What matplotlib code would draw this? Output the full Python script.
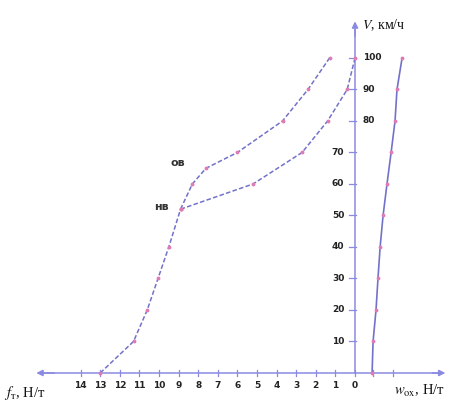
import matplotlib
matplotlib.use("Agg")
import matplotlib.pyplot as plt

plt.rcParams['mathtext.fontset'] = 'stix'

# Data (f_т in Н/т, plotted to the left as negative x)
V_main = [0, 10, 20, 30, 40, 52]
f_main = [13.0, 11.3, 10.6, 10.05, 9.5, 8.9]

V_ov = [52, 60, 65, 70, 80, 90, 100]
f_ov = [8.9, 8.3, 7.6, 6.0, 3.7, 2.4, 1.3]

V_nv = [52, 60, 70, 80, 90, 100]
f_nv = [8.9, 5.2, 2.7, 1.4, 0.4, 0.0]

V_w = [0, 10, 20, 30, 40, 50, 60, 70, 80, 90, 100]
w_ox = [0.87, 0.92, 1.07, 1.17, 1.28, 1.43, 1.63, 1.84, 2.04, 2.14, 2.4]

f_ticks = list(range(0, 15))
V_ticks = [10, 20, 30, 40, 50, 60, 70, 80, 90, 100]

AX = '#8a8ae2'
LINE = '#7272c8'
MARK = '#e07ab4'

fig = plt.figure(figsize=(4.66, 4.01), dpi=100)
ax = fig.add_axes([0, 0, 1, 1])
ax.set_xlim(-18.11, 5.66)
ax.set_ylim(-8.89, 118.4)
ax.axis('off')

# axes with arrows
ax.plot([-16.0, 4.4], [0, 0], color=AX, lw=1.1, zorder=1)
ax.annotate('', xy=(-16.4, 0), xytext=(-15.2, 0),
            arrowprops=dict(arrowstyle='-|>', color=AX, lw=1.1, mutation_scale=9))
ax.annotate('', xy=(4.75, 0), xytext=(3.8, 0),
            arrowprops=dict(arrowstyle='-|>', color=AX, lw=1.1, mutation_scale=9))
ax.plot([0, 0], [0, 109], color=AX, lw=1.1, zorder=1)
ax.annotate('', xy=(0, 112.5), xytext=(0, 106),
            arrowprops=dict(arrowstyle='-|>', color=AX, lw=1.1, mutation_scale=9))

# f ticks
for k in f_ticks:
    ax.plot([-k, -k], [-0.9, 0.9], color=AX, lw=0.9)
    ax.text(-k, -4.1, str(k), ha='center', va='center', fontsize=6.5,
            fontweight='bold', color='#222222')
# w ticks
for w in [0.9, 1.95]:
    ax.plot([w, w], [-0.9, 0.9], color=AX, lw=0.9)

# V ticks
for v in V_ticks:
    ax.plot([-0.3, 0.05], [v, v], color=AX, lw=0.9)
    if v >= 80:
        ax.text(0.4, v, str(v), ha='left', va='center', fontsize=6.5,
                fontweight='bold', color='#222222')
    else:
        ax.text(-0.55, v, str(v), ha='right', va='center', fontsize=6.5,
                fontweight='bold', color='#222222')

# curves
style = dict(color=LINE, lw=1.1, ls=(0, (3, 1.5)), marker='.', markersize=3.5,
             mfc=MARK, mec=MARK, zorder=3)
ax.plot([-f for f in f_main], V_main, **style)
ax.plot([-f for f in f_ov], V_ov, **style)
ax.plot([-f for f in f_nv], V_nv, **style)
ax.plot(w_ox, V_w, color=LINE, lw=1.2, ls='-', marker='.', markersize=3.5,
        mfc=MARK, mec=MARK, zorder=3)

# labels on curves
ax.text(-9.03, 66.7, 'ов', ha='center', va='center', fontsize=8, fontweight='bold', color='#333333')
ax.text(-9.9, 52.7, 'нв', ha='center', va='center', fontsize=8, fontweight='bold', color='#333333')

# axis titles
ax.text(0.36, 110.5, r'$V$, км/ч', ha='left', va='center', fontsize=10,
        family='Liberation Serif', color='#111111')
ax.text(-17.9, -6.4, r'$f_{\mathrm{т}}$, Н/т', ha='left', va='center', fontsize=10.5,
        family='Liberation Serif', color='#111111')
ax.text(2.0, -5.6, r'$w_{\mathrm{ох}}$, Н/т', ha='left', va='center', fontsize=10.5,
        family='Liberation Serif', color='#111111')

fig.savefig('out.png', dpi=100)
